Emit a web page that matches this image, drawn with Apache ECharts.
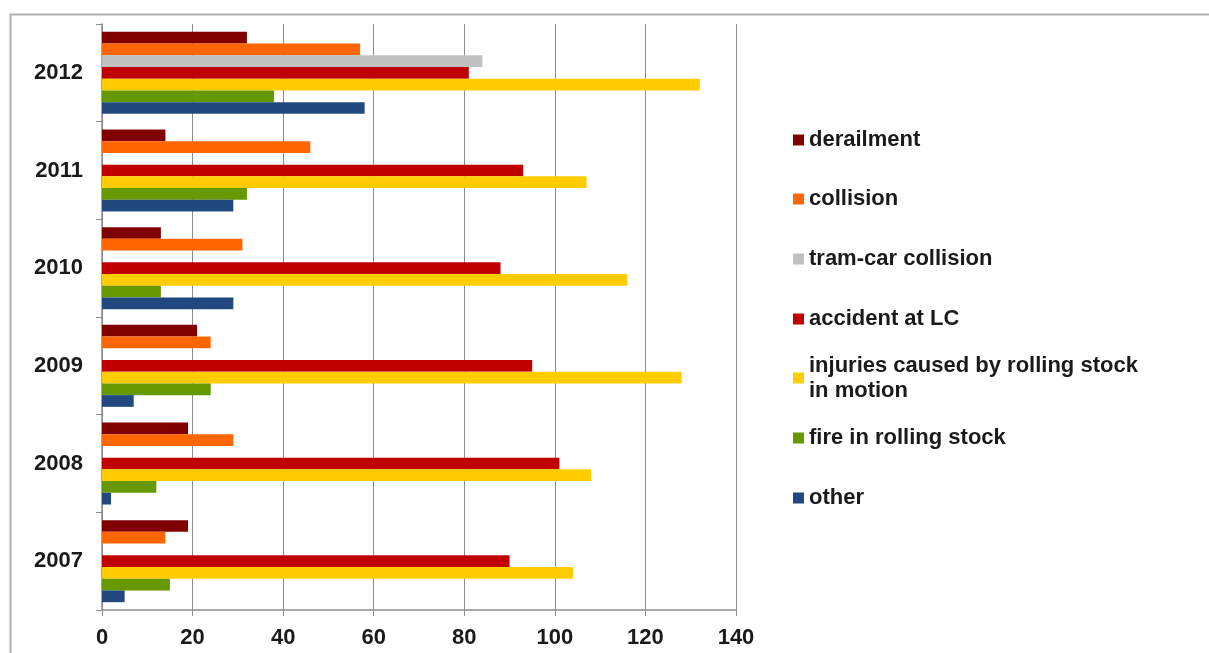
<!DOCTYPE html>
<html>
<head>
<meta charset="utf-8">
<style>
  html, body { margin: 0; padding: 0; background: #ffffff; }
  #chart { width: 1209px; height: 653px; }
</style>
<script src="https://cdn.jsdelivr.net/npm/echarts@6/dist/echarts.min.js"></script>
</head>
<body>
<div id="chart"></div>
<script>
// Railway accidents by type, 2007–2012
const years = ['2012', '2011', '2010', '2009', '2008', '2007'];
const xTicks = [0, 20, 40, 60, 80, 100, 120, 140];

const derailment = [32, 14, 13, 21, 19, 19];
const collision = [57, 46, 31, 24, 29, 14];
const tramCarCollision = [84, 0, 0, 0, 0, 0];
const accidentAtLC = [81, 93, 88, 95, 101, 90];
const injuriesRollingStock = [132, 107, 116, 128, 108, 104];
const fireInRollingStock = [38, 32, 13, 24, 12, 15];
const other = [58, 29, 29, 7, 2, 5];

const seriesNames = [
  'derailment',
  'collision',
  'tram-car collision',
  'accident at LC',
  'injuries caused by rolling stock in motion',
  'fire in rolling stock',
  'other'
];
const seriesData = [derailment, collision, tramCarCollision, accidentAtLC,
  injuriesRollingStock, fireInRollingStock, other];
const seriesColors = ['#800000', '#ff6600', '#c0c0c0', '#c00000', '#ffcc00', '#669900', '#21487f'];

const FONT = '"Liberation Sans", Arial, sans-serif';
const TEXT = '#1a1a1a';

// vertical centre of each legend row
const legendRowY = [140, 199, 259, 319, 378, 438, 498];

const legends = seriesNames.map(function (name, i) {
  const twoLine = name === 'injuries caused by rolling stock in motion';
  return {
    orient: 'vertical',
    left: 793,
    top: twoLine ? legendRowY[i] - 37.5 : legendRowY[i] - 12.5,
    padding: 0,
    itemWidth: 11,
    itemHeight: 11,
    icon: 'rect',
    selectedMode: false,
    data: [name],
    formatter: function (n) {
      return twoLine ? 'injuries caused by rolling stock\nin motion' : n;
    },
    textStyle: {
      fontFamily: FONT,
      fontWeight: 'bold',
      fontSize: 22,
      lineHeight: 25,
      color: TEXT,
      padding: twoLine ? [25, 0, 0, 0] : 0
    }
  };
});

const chart = echarts.init(document.getElementById('chart'), null, { renderer: 'canvas' });

chart.setOption({
  backgroundColor: '#ffffff',
  animation: false,
  graphic: [{
    type: 'rect',
    left: 8,
    top: 12,
    shape: { width: 1300, height: 700 },
    style: { fill: 'none', stroke: '#b0b0b0', lineWidth: 2 },
    silent: true,
    z: -10
  }],
  legend: legends,
  grid: {
    left: 102,
    right: 473,
    top: 24,
    bottom: 43,
    containLabel: false
  },
  xAxis: {
    type: 'value',
    min: xTicks[0],
    max: xTicks[xTicks.length - 1],
    interval: xTicks[1] - xTicks[0],
    axisLine: { show: true, lineStyle: { color: '#8c8c8c', width: 1.5 } },
    axisTick: { show: true, length: 6, lineStyle: { color: '#8c8c8c' } },
    splitLine: { show: true, lineStyle: { color: '#8c8c8c', width: 1 } },
    axisLabel: {
      margin: 17,
      fontFamily: FONT,
      fontWeight: 'bold',
      fontSize: 22,
      color: TEXT
    }
  },
  yAxis: {
    type: 'category',
    data: years,
    inverse: true,
    axisLine: { show: true, lineStyle: { color: '#8c8c8c', width: 1.5 } },
    axisTick: { show: true, length: 6, lineStyle: { color: '#8c8c8c' } },
    axisLabel: {
      margin: 19,
      fontFamily: FONT,
      fontWeight: 'bold',
      fontSize: 22,
      color: TEXT
    }
  },
  series: seriesNames.map(function (name, i) {
    return {
      name: name,
      type: 'bar',
      data: seriesData[i],
      barGap: '0%',
      barCategoryGap: '16%',
      itemStyle: { color: seriesColors[i] },
      emphasis: { disabled: true }
    };
  })
});
</script>
</body>
</html>
